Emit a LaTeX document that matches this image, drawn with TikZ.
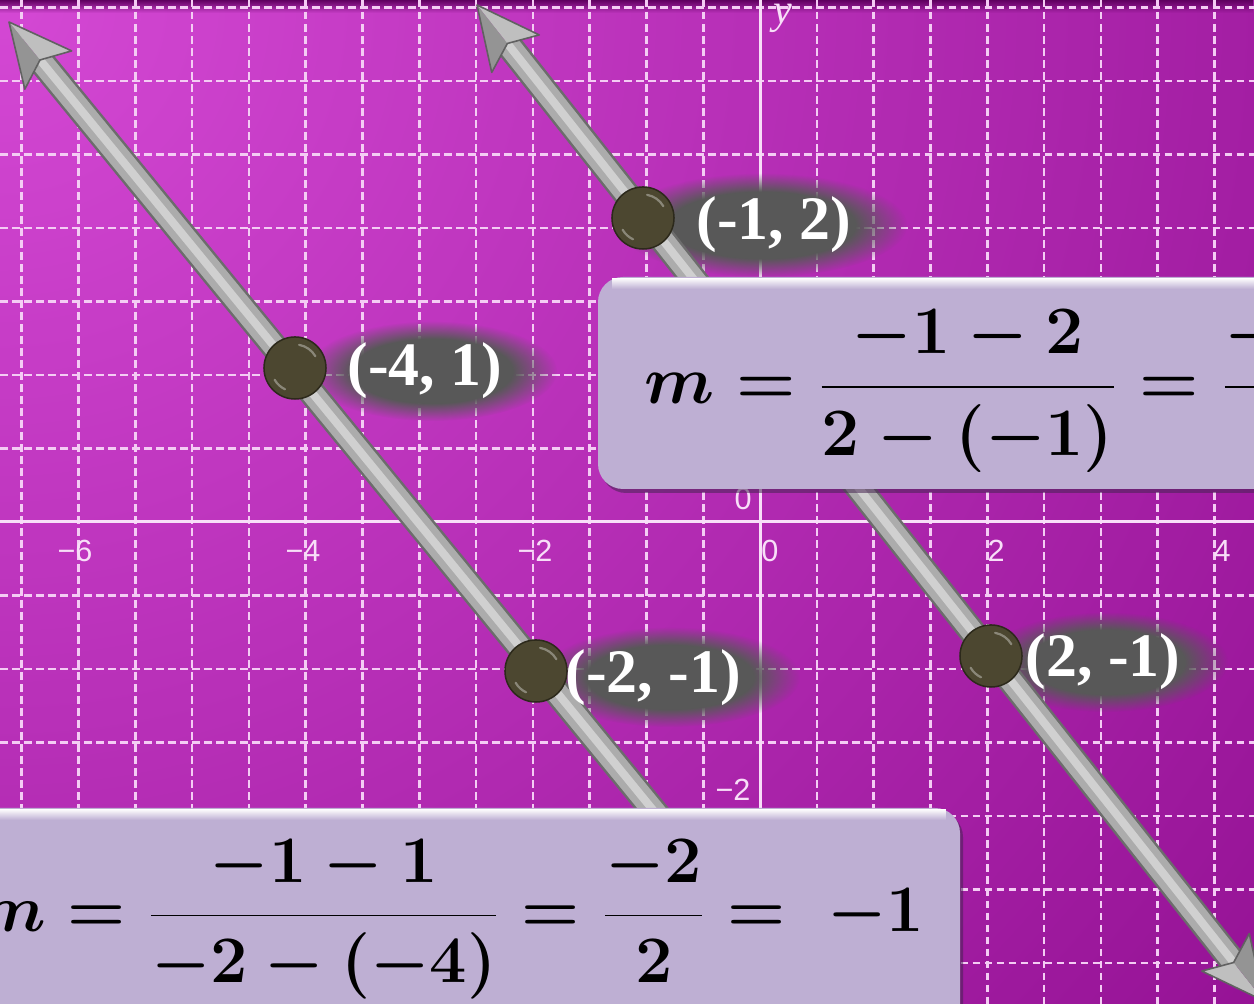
\RequirePackage{fix-cm}
\documentclass[tikz,border=0pt]{standalone}
\usepackage{fontspec}
\usetikzlibrary{calc,fadings}
\newfontfamily\ptfont{Liberation Serif}
\newfontfamily\tickfont{Liberation Sans}

% origin and grid spacing of the plane, in pixels
\newcommand{\OX}{760}
\newcommand{\OY}{522}
\newcommand{\GX}{56.8}
\newcommand{\GY}{73.5}

\definecolor{bglight}{RGB}{212,72,212}
\definecolor{bgdark}{RGB}{142,12,142}
\definecolor{bgtop}{RGB}{96,0,96}
\definecolor{gridpink}{RGB}{244,204,244}
\definecolor{axpink}{RGB}{248,222,248}
\definecolor{rodedge}{RGB}{108,108,108}
\definecolor{rodbody}{RGB}{172,172,172}
\definecolor{rodshine}{RGB}{208,208,208}
\definecolor{ptfill}{RGB}{76,71,48}
\definecolor{ptedge}{RGB}{44,41,27}
\definecolor{glowgray}{RGB}{88,88,88}
\definecolor{boxfill}{RGB}{190,175,211}
\definecolor{boxshadow}{RGB}{70,36,82}

\pgfdeclareradialshading{glowshade}{\pgfpointorigin}{color(0bp)=(white); color(16bp)=(white); color(25bp)=(black); color(50bp)=(black)}
\pgfdeclarefading{glowfade}{\pgfuseshading{glowshade}}
\tikzfading[name=fadedown, top color=transparent!0, bottom color=transparent!100]

% arrow head of a rod: tip #1, pointing away from #2
\newcommand{\rodhead}[2]{%
  \fill[headlt] (#1) -- ($(#1)!0.69cm!26:(#2)$) -- ($(#1)!0.49cm!(#2)$) -- cycle;
  \fill[headdk] (#1) -- ($(#1)!0.49cm!(#2)$) -- ($(#1)!0.69cm!-26:(#2)$) -- cycle;
  \draw[headedge] (#1) -- ($(#1)!0.69cm!26:(#2)$) -- ($(#1)!0.49cm!(#2)$)
    -- ($(#1)!0.69cm!-26:(#2)$) -- cycle;
}
\newcommand{\slopeone}{$\displaystyle m=\frac{-1-2}{2-(-1)}=\frac{-3}{3}=-1$}
\newcommand{\slopetwo}{$\displaystyle m=\frac{-1-1}{-2-(-4)}=\frac{-2}{2}=\ -1$}

\begin{document}
\begin{tikzpicture}[
    x=0.01cm, y=-0.01cm,
    gridln/.style={draw=gridpink, line width=0.26mm, dash pattern=on 0.75mm off 0.45mm},
    axisln/.style={draw=axpink, line width=0.3mm},
    ticklbl/.style={text=axpink, inner sep=0pt, font=\tickfont\fontsize{8.7}{10}\selectfont},
    glow/.style={fill=glowgray, path fading=glowfade},
    rodout/.style={draw=rodedge, line width=2.7mm},
    rodmid/.style={draw=rodbody, line width=2.2mm},
    rodhi/.style={draw=rodshine, line width=0.8mm},
    headlt/.style={fill=black!25},
    headdk/.style={fill=black!42},
    headedge/.style={draw=black!62, line width=0.16mm, line join=round},
    pt/.style={circle, draw=ptedge, fill=ptfill, line width=0.15mm, minimum size=6.2mm, inner sep=0pt},
    ptshine/.style={draw=white, opacity=0.35, line width=0.22mm, line cap=round},
    ptlbl/.style={anchor=west, inner sep=0pt, text=white, font=\ptfont\bfseries\fontsize{17.6}{20}\selectfont},
    eqbox/.style={fill=boxfill, rounded corners=2.5mm},
    eqshadow/.style={fill=boxshadow, opacity=0.55, rounded corners=2.5mm},
    eqn/.style={anchor=base west, inner sep=0pt, font=\fontsize{18.9}{23}\selectfont\boldmath},
  ]
  \useasboundingbox (0,0) rectangle (1254,1004);
  \clip (0,0) rectangle (1254,1004);

  %% background
  \shade[inner color=bglight, outer color=bgdark] (0,0) circle[radius=18cm];
  \fill[bgtop, path fading=fadedown] (0,0) rectangle (1254,13);

  %% dashed grid, half units
  \foreach \k in {-13,...,8} { \draw[gridln] ({\OX+\k*\GX},0) -- ({\OX+\k*\GX},1004); }
  \foreach \k in {-7,...,6} { \draw[gridln] (0,{\OY+\k*\GY}) -- (1254,{\OY+\k*\GY}); }

  %% axes
  \draw[axisln] (0,\OY) -- (1254,\OY);
  \draw[axisln] (\OX,0) -- (\OX,1004);
  \foreach \v/\x [count=\n] in {−6/75, −4/303, −2/535, 0/770, 2/996, 4/1222} {
    \node[ticklbl] (xt\n) at (\x,551) {\v};
  }
  \node[ticklbl] (yt1) at (733,790) {−2};
  \node[ticklbl] (yt0) at (743,499) {0};
  \node[ticklbl, anchor=base, font=\ptfont\itshape\fontsize{12}{14}\selectfont] (ylbl) at (783,24) {y};

  %% where the point labels go
  \coordinate (lA) at (696,225);
  \coordinate (lB) at (347,371);
  \coordinate (lC) at (565,678);
  \coordinate (lD) at (1025,662);

  %% dark glow behind the labels
  \fill[glow] (762,225) ellipse (145 and 52);
  \fill[glow] (432,371) ellipse (125 and 50);
  \fill[glow] (670,677) ellipse (130 and 50);
  \fill[glow] (1106,662) ellipse (122 and 50);

  %% the two parallel lines
  \coordinate (a1) at (9,22);
  \coordinate (a2) at (680,843);
  \coordinate (b1) at (477,5);
  \coordinate (b2) at (1264,1001);

  \foreach \s in {rodout,rodmid,rodhi} {
    \draw[\s] ($(a1)!0.45cm!(a2)$) -- (a2);
    \draw[\s] ($(b1)!0.45cm!(b2)$) -- ($(b2)!0.45cm!(b1)$);
  }
  \rodhead{a1}{a2}
  \rodhead{b1}{b2}
  \rodhead{b2}{b1}

  %% points
  \node[pt] (pA) at (643,218) {};
  \node[pt] (pB) at (295,368) {};
  \node[pt] (pC) at (536,671) {};
  \node[pt] (pD) at (991,656) {};
  \foreach \p in {pA,pB,pC,pD} {
    \draw[ptshine] ([shift={(30:2.35mm)}]\p.center) arc[start angle=30, end angle=80, radius=2.35mm];
    \draw[ptshine] ([shift={(210:2.35mm)}]\p.center) arc[start angle=210, end angle=245, radius=2.35mm];
  }

  \node[ptlbl] (tA) at (lA) {(-1, 2)};
  \node[ptlbl] (tB) at (lB) {(-4, 1)};
  \node[ptlbl] (tC) at (lC) {(-2, -1)};
  \node[ptlbl] (tD) at (lD) {(2, -1)};

  %% slope boxes
  \fill[eqshadow] (601,281) rectangle (1300,493);
  \fill[eqbox] (598,277) rectangle (1300,489);
  \fill[white, path fading=fadedown] (612,278) rectangle (1300,289);
  \node[eqn, font=\fontsize{19.3}{23}\selectfont\boldmath] (slopeB) at (644,404) {\slopeone};

  \fill[eqshadow] (-37,812) rectangle (963,1060);
  \fill[eqbox] (-40,808) rectangle (960,1060);
  \fill[white, path fading=fadedown] (-40,809) rectangle (946,820);
  \node[eqn] (slopeA) at (-23,932) {\slopetwo};

\end{tikzpicture}
\end{document}
